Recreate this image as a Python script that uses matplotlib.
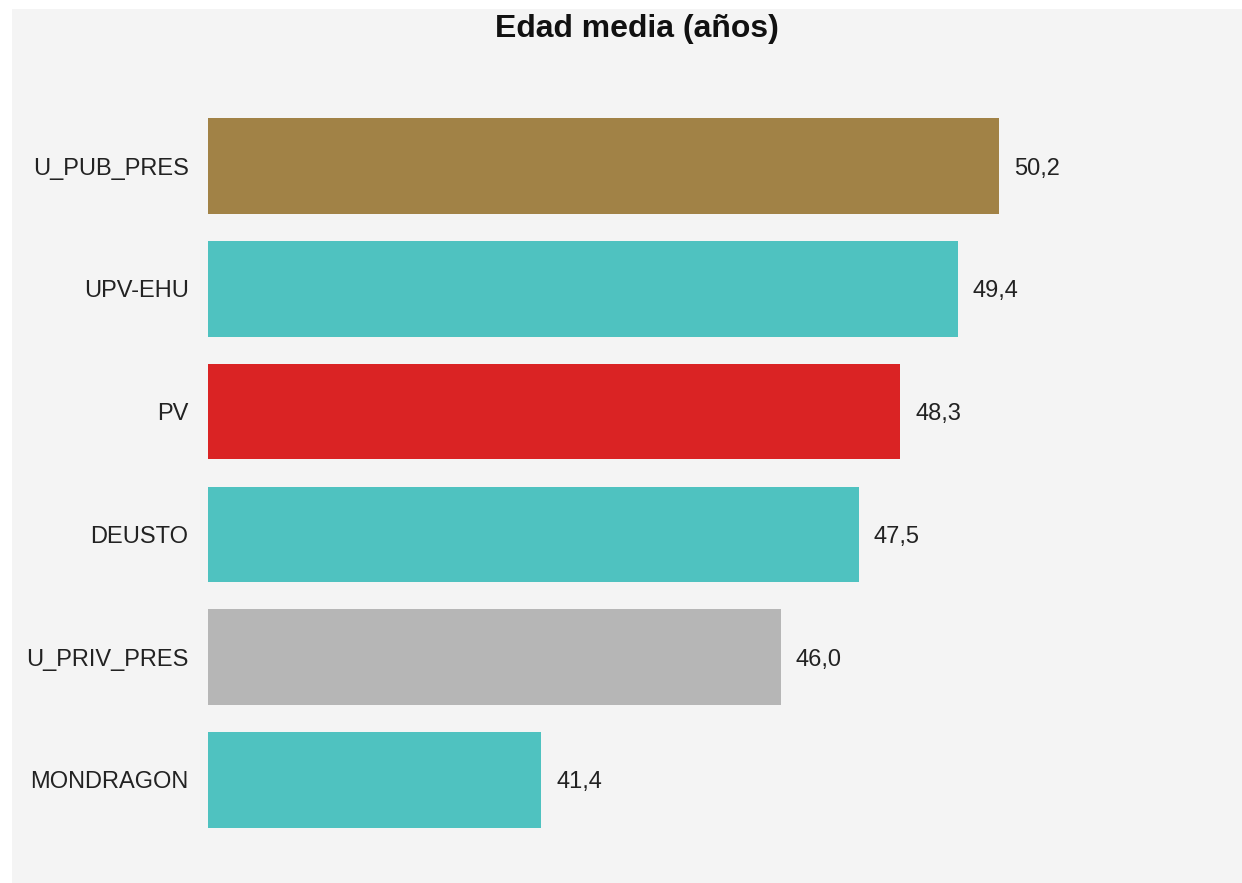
import matplotlib.pyplot as plt
from matplotlib.patches import Rectangle

plt.rcParams['font.family'] = ['Liberation Sans', 'DejaVu Sans']

# Data (top to bottom)
universidades = ['U_PUB_PRES', 'UPV-EHU', 'PV', 'DEUSTO', 'U_PRIV_PRES', 'MONDRAGON']
edad_media = [50.2, 49.4, 48.3, 47.5, 46.0, 41.4]
colores = ['#A18246', '#4FC2C0', '#DA2324', '#4FC2C0', '#B6B6B6', '#4FC2C0']

W, H = 1242, 883
fig = plt.figure(figsize=(W / 100, H / 100), dpi=100)
fig.patch.set_facecolor('white')

# light gray panel behind the chart
fig.patches.append(Rectangle((12 / W, 0), (W - 12) / W, (H - 9) / H,
                             transform=fig.transFigure, facecolor='#F4F4F4',
                             edgecolor='none', zorder=-10))

# axes placed in pixels: x from 208, rows from 104.6 to 841.4
x0, x1 = 208, 1197
y_top, y_bot = 104.6, 841.4
ax = fig.add_axes([x0 / W, (H - y_bot) / H, (x1 - x0) / W, (y_bot - y_top) / H])
ax.set_facecolor('none')
ax.set_zorder(1)

pos = list(range(len(universidades)))
ax.barh(pos, edad_media, left=0, height=0.78, color=colores)
ax.set_xlim(35, 35 + (x1 - x0) / 52.05)
ax.set_ylim(len(universidades) - 0.5, -0.5)

# value labels with comma decimals
for p, v in zip(pos, edad_media):
    ax.annotate(f'{v:.1f}'.replace('.', ','), xy=(v, p), xytext=(11, 0),
                textcoords='offset points', va='center_baseline', ha='left',
                fontsize=17, color='#222222')

ax.set_yticks(pos)
ax.set_yticklabels(universidades, fontsize=17, color='#222222')
ax.tick_params(axis='y', length=0, pad=14)
ax.set_xticks([])
for s in ax.spines.values():
    s.set_visible(False)

fig.text(636.5 / W, (H - 37) / H, 'Edad media (años)', ha='center', va='baseline',
         fontsize=23, fontweight='bold', color='#111111', zorder=2)

fig.savefig('out.png', dpi=100, facecolor=fig.get_facecolor())
